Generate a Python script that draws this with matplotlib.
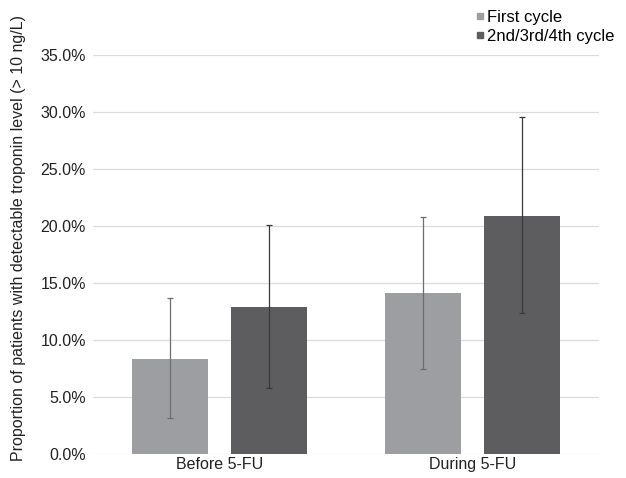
import matplotlib.pyplot as plt
from matplotlib.lines import Line2D
from matplotlib.ticker import PercentFormatter
import numpy as np

plt.rcParams['font.family'] = ['Liberation Sans', 'DejaVu Sans']

categories = ["Before 5-FU", "During 5-FU"]
series_names = ["First cycle", "2nd/3rd/4th cycle"]
first_vals = [8.3, 14.1]
first_low = [3.2, 7.5]
first_high = [13.7, 20.8]
later_vals = [12.9, 20.9]
later_low = [5.8, 12.4]
later_high = [20.1, 29.6]

light = "#9d9ea2"
dark = "#5d5d5f"

fig = plt.figure(figsize=(6.26, 4.78), dpi=100)
ax = fig.add_axes([0.1486, 0.050, 0.809, 0.835])

x = np.arange(len(categories))
w = 0.30
off = 0.195

fv = np.array(first_vals)
lv = np.array(later_vals)
ferr = [fv - np.array(first_low), np.array(first_high) - fv]
lerr = [lv - np.array(later_low), np.array(later_high) - lv]

ax.bar(x - off, fv, w, color=light, zorder=2)
ax.bar(x + off, lv, w, color=dark, zorder=2)
ax.errorbar(x - off, fv, yerr=ferr, fmt='none', ecolor="#6e6e70",
            elinewidth=0.9, capsize=2.5, capthick=0.9, zorder=3)
ax.errorbar(x + off, lv, yerr=lerr, fmt='none', ecolor="#38383a",
            elinewidth=0.9, capsize=2.5, capthick=0.9, zorder=3)

ax.set_xlim(-0.5, 1.5)
ax.set_ylim(0, 35)
ax.set_yticks(np.arange(0, 36, 5))
ax.yaxis.set_major_formatter(PercentFormatter(decimals=1))
ax.set_xticks(x)
ax.set_xticklabels(categories)
ax.grid(axis='y', color="#dcdcdc", linewidth=0.9, zorder=0)
ax.set_axisbelow(True)
for s in ax.spines.values():
    s.set_visible(False)
ax.tick_params(length=0, labelsize=11.5, colors="#222222", pad=5)
ax.tick_params(axis='x', pad=2)
ax.set_ylabel("Proportion of patients with detectable troponin level (> 10 ng/L)",
              fontsize=11.5, color="#222222", va='center')
ax.yaxis.set_label_coords(-0.148, 0.541)

handles = [Line2D([], [], marker='s', linestyle='none', color=light, markersize=5),
           Line2D([], [], marker='s', linestyle='none', color=dark, markersize=5)]
fig.legend(handles, series_names, loc='upper right', bbox_to_anchor=(0.997, 1.0),
           frameon=False, fontsize=12, handletextpad=0.0, labelspacing=0.25,
           handlelength=0.8, borderaxespad=0.2)

fig.savefig("out.png", dpi=100)
